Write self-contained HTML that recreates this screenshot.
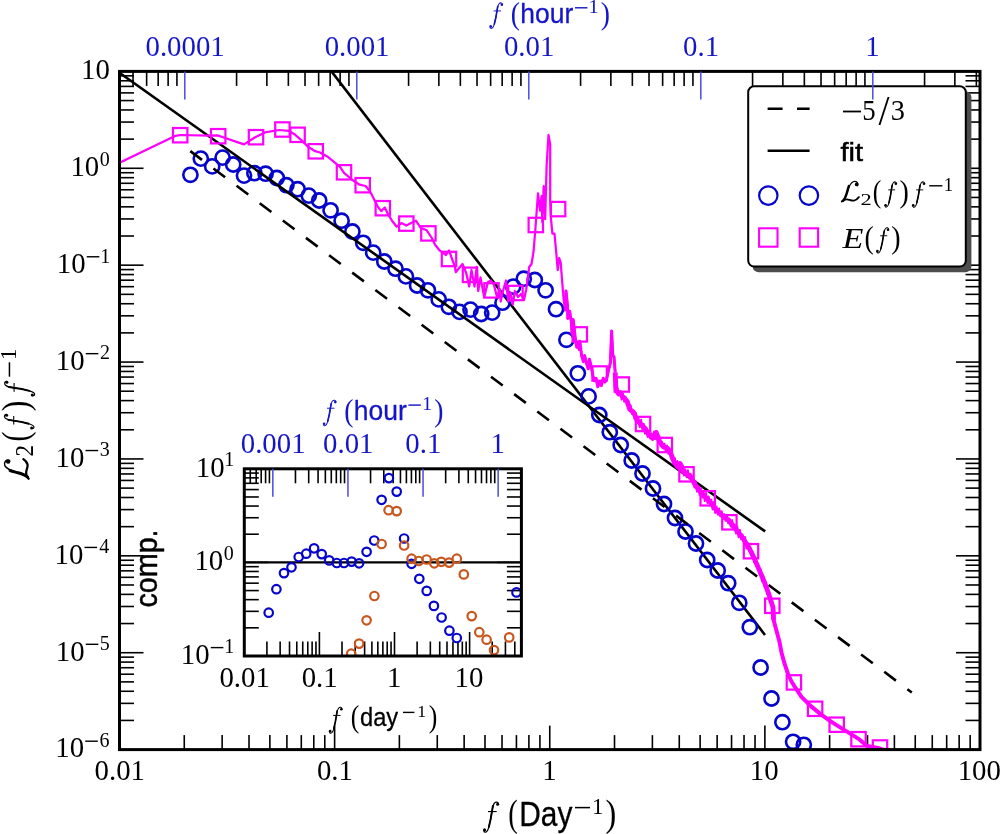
<!DOCTYPE html>
<html><head><meta charset="utf-8"><style>
html,body{margin:0;padding:0;background:#fff;}
svg{display:block;will-change:transform;}
</style></head><body>
<svg width="1000" height="834" viewBox="0 0 1000 834">
<rect width="1000" height="834" fill="#fff"/>
<defs><clipPath id="cm"><rect x="119.5" y="71.4" width="860.5" height="678.2"/></clipPath><clipPath id="ci"><rect x="244.3" y="468.8" width="277.09999999999997" height="187.2"/></clipPath></defs>
<line x1="184.26" y1="749.60" x2="184.26" y2="735.10" stroke="#000" stroke-width="1.6" />
<line x1="222.14" y1="749.60" x2="222.14" y2="735.10" stroke="#000" stroke-width="1.6" />
<line x1="249.02" y1="749.60" x2="249.02" y2="735.10" stroke="#000" stroke-width="1.6" />
<line x1="269.87" y1="749.60" x2="269.87" y2="735.10" stroke="#000" stroke-width="1.6" />
<line x1="286.90" y1="749.60" x2="286.90" y2="735.10" stroke="#000" stroke-width="1.6" />
<line x1="301.30" y1="749.60" x2="301.30" y2="735.10" stroke="#000" stroke-width="1.6" />
<line x1="313.78" y1="749.60" x2="313.78" y2="735.10" stroke="#000" stroke-width="1.6" />
<line x1="324.78" y1="749.60" x2="324.78" y2="735.10" stroke="#000" stroke-width="1.6" />
<line x1="334.62" y1="749.60" x2="334.62" y2="725.60" stroke="#000" stroke-width="1.6" />
<line x1="399.38" y1="749.60" x2="399.38" y2="735.10" stroke="#000" stroke-width="1.6" />
<line x1="437.27" y1="749.60" x2="437.27" y2="735.10" stroke="#000" stroke-width="1.6" />
<line x1="464.14" y1="749.60" x2="464.14" y2="735.10" stroke="#000" stroke-width="1.6" />
<line x1="484.99" y1="749.60" x2="484.99" y2="735.10" stroke="#000" stroke-width="1.6" />
<line x1="502.02" y1="749.60" x2="502.02" y2="735.10" stroke="#000" stroke-width="1.6" />
<line x1="516.43" y1="749.60" x2="516.43" y2="735.10" stroke="#000" stroke-width="1.6" />
<line x1="528.90" y1="749.60" x2="528.90" y2="735.10" stroke="#000" stroke-width="1.6" />
<line x1="539.91" y1="749.60" x2="539.91" y2="735.10" stroke="#000" stroke-width="1.6" />
<line x1="549.75" y1="749.60" x2="549.75" y2="725.60" stroke="#000" stroke-width="1.6" />
<line x1="614.51" y1="749.60" x2="614.51" y2="735.10" stroke="#000" stroke-width="1.6" />
<line x1="652.39" y1="749.60" x2="652.39" y2="735.10" stroke="#000" stroke-width="1.6" />
<line x1="679.27" y1="749.60" x2="679.27" y2="735.10" stroke="#000" stroke-width="1.6" />
<line x1="700.12" y1="749.60" x2="700.12" y2="735.10" stroke="#000" stroke-width="1.6" />
<line x1="717.15" y1="749.60" x2="717.15" y2="735.10" stroke="#000" stroke-width="1.6" />
<line x1="731.55" y1="749.60" x2="731.55" y2="735.10" stroke="#000" stroke-width="1.6" />
<line x1="744.03" y1="749.60" x2="744.03" y2="735.10" stroke="#000" stroke-width="1.6" />
<line x1="755.03" y1="749.60" x2="755.03" y2="735.10" stroke="#000" stroke-width="1.6" />
<line x1="764.88" y1="749.60" x2="764.88" y2="725.60" stroke="#000" stroke-width="1.6" />
<line x1="829.63" y1="749.60" x2="829.63" y2="735.10" stroke="#000" stroke-width="1.6" />
<line x1="867.52" y1="749.60" x2="867.52" y2="735.10" stroke="#000" stroke-width="1.6" />
<line x1="894.39" y1="749.60" x2="894.39" y2="735.10" stroke="#000" stroke-width="1.6" />
<line x1="915.24" y1="749.60" x2="915.24" y2="735.10" stroke="#000" stroke-width="1.6" />
<line x1="932.27" y1="749.60" x2="932.27" y2="735.10" stroke="#000" stroke-width="1.6" />
<line x1="946.68" y1="749.60" x2="946.68" y2="735.10" stroke="#000" stroke-width="1.6" />
<line x1="959.15" y1="749.60" x2="959.15" y2="735.10" stroke="#000" stroke-width="1.6" />
<line x1="970.16" y1="749.60" x2="970.16" y2="735.10" stroke="#000" stroke-width="1.6" />
<line x1="133.02" y1="71.40" x2="133.02" y2="85.90" stroke="#000" stroke-width="1.6" />
<line x1="146.64" y1="71.40" x2="146.64" y2="85.90" stroke="#000" stroke-width="1.6" />
<line x1="158.16" y1="71.40" x2="158.16" y2="85.90" stroke="#000" stroke-width="1.6" />
<line x1="168.13" y1="71.40" x2="168.13" y2="85.90" stroke="#000" stroke-width="1.6" />
<line x1="176.93" y1="71.40" x2="176.93" y2="85.90" stroke="#000" stroke-width="1.6" />
<line x1="236.58" y1="71.40" x2="236.58" y2="85.90" stroke="#000" stroke-width="1.6" />
<line x1="266.86" y1="71.40" x2="266.86" y2="85.90" stroke="#000" stroke-width="1.6" />
<line x1="288.35" y1="71.40" x2="288.35" y2="85.90" stroke="#000" stroke-width="1.6" />
<line x1="305.02" y1="71.40" x2="305.02" y2="85.90" stroke="#000" stroke-width="1.6" />
<line x1="318.64" y1="71.40" x2="318.64" y2="85.90" stroke="#000" stroke-width="1.6" />
<line x1="330.16" y1="71.40" x2="330.16" y2="85.90" stroke="#000" stroke-width="1.6" />
<line x1="340.13" y1="71.40" x2="340.13" y2="85.90" stroke="#000" stroke-width="1.6" />
<line x1="348.93" y1="71.40" x2="348.93" y2="85.90" stroke="#000" stroke-width="1.6" />
<line x1="408.58" y1="71.40" x2="408.58" y2="85.90" stroke="#000" stroke-width="1.6" />
<line x1="438.86" y1="71.40" x2="438.86" y2="85.90" stroke="#000" stroke-width="1.6" />
<line x1="460.35" y1="71.40" x2="460.35" y2="85.90" stroke="#000" stroke-width="1.6" />
<line x1="477.02" y1="71.40" x2="477.02" y2="85.90" stroke="#000" stroke-width="1.6" />
<line x1="490.64" y1="71.40" x2="490.64" y2="85.90" stroke="#000" stroke-width="1.6" />
<line x1="502.16" y1="71.40" x2="502.16" y2="85.90" stroke="#000" stroke-width="1.6" />
<line x1="512.13" y1="71.40" x2="512.13" y2="85.90" stroke="#000" stroke-width="1.6" />
<line x1="520.93" y1="71.40" x2="520.93" y2="85.90" stroke="#000" stroke-width="1.6" />
<line x1="580.58" y1="71.40" x2="580.58" y2="85.90" stroke="#000" stroke-width="1.6" />
<line x1="610.86" y1="71.40" x2="610.86" y2="85.90" stroke="#000" stroke-width="1.6" />
<line x1="632.35" y1="71.40" x2="632.35" y2="85.90" stroke="#000" stroke-width="1.6" />
<line x1="649.02" y1="71.40" x2="649.02" y2="85.90" stroke="#000" stroke-width="1.6" />
<line x1="662.64" y1="71.40" x2="662.64" y2="85.90" stroke="#000" stroke-width="1.6" />
<line x1="674.16" y1="71.40" x2="674.16" y2="85.90" stroke="#000" stroke-width="1.6" />
<line x1="684.13" y1="71.40" x2="684.13" y2="85.90" stroke="#000" stroke-width="1.6" />
<line x1="692.93" y1="71.40" x2="692.93" y2="85.90" stroke="#000" stroke-width="1.6" />
<line x1="752.58" y1="71.40" x2="752.58" y2="85.90" stroke="#000" stroke-width="1.6" />
<line x1="782.86" y1="71.40" x2="782.86" y2="85.90" stroke="#000" stroke-width="1.6" />
<line x1="804.35" y1="71.40" x2="804.35" y2="85.90" stroke="#000" stroke-width="1.6" />
<line x1="821.02" y1="71.40" x2="821.02" y2="85.90" stroke="#000" stroke-width="1.6" />
<line x1="834.64" y1="71.40" x2="834.64" y2="85.90" stroke="#000" stroke-width="1.6" />
<line x1="846.16" y1="71.40" x2="846.16" y2="85.90" stroke="#000" stroke-width="1.6" />
<line x1="856.13" y1="71.40" x2="856.13" y2="85.90" stroke="#000" stroke-width="1.6" />
<line x1="864.93" y1="71.40" x2="864.93" y2="85.90" stroke="#000" stroke-width="1.6" />
<line x1="924.58" y1="71.40" x2="924.58" y2="85.90" stroke="#000" stroke-width="1.6" />
<line x1="954.86" y1="71.40" x2="954.86" y2="85.90" stroke="#000" stroke-width="1.6" />
<line x1="976.35" y1="71.40" x2="976.35" y2="85.90" stroke="#000" stroke-width="1.6" />
<line x1="119.50" y1="720.43" x2="134.00" y2="720.43" stroke="#000" stroke-width="1.6" />
<line x1="980.00" y1="720.43" x2="965.50" y2="720.43" stroke="#000" stroke-width="1.6" />
<line x1="119.50" y1="703.37" x2="134.00" y2="703.37" stroke="#000" stroke-width="1.6" />
<line x1="980.00" y1="703.37" x2="965.50" y2="703.37" stroke="#000" stroke-width="1.6" />
<line x1="119.50" y1="691.27" x2="134.00" y2="691.27" stroke="#000" stroke-width="1.6" />
<line x1="980.00" y1="691.27" x2="965.50" y2="691.27" stroke="#000" stroke-width="1.6" />
<line x1="119.50" y1="681.88" x2="134.00" y2="681.88" stroke="#000" stroke-width="1.6" />
<line x1="980.00" y1="681.88" x2="965.50" y2="681.88" stroke="#000" stroke-width="1.6" />
<line x1="119.50" y1="674.21" x2="134.00" y2="674.21" stroke="#000" stroke-width="1.6" />
<line x1="980.00" y1="674.21" x2="965.50" y2="674.21" stroke="#000" stroke-width="1.6" />
<line x1="119.50" y1="667.72" x2="134.00" y2="667.72" stroke="#000" stroke-width="1.6" />
<line x1="980.00" y1="667.72" x2="965.50" y2="667.72" stroke="#000" stroke-width="1.6" />
<line x1="119.50" y1="662.10" x2="134.00" y2="662.10" stroke="#000" stroke-width="1.6" />
<line x1="980.00" y1="662.10" x2="965.50" y2="662.10" stroke="#000" stroke-width="1.6" />
<line x1="119.50" y1="657.15" x2="134.00" y2="657.15" stroke="#000" stroke-width="1.6" />
<line x1="980.00" y1="657.15" x2="965.50" y2="657.15" stroke="#000" stroke-width="1.6" />
<line x1="119.50" y1="652.71" x2="143.50" y2="652.71" stroke="#000" stroke-width="1.6" />
<line x1="980.00" y1="652.71" x2="956.00" y2="652.71" stroke="#000" stroke-width="1.6" />
<line x1="119.50" y1="623.55" x2="134.00" y2="623.55" stroke="#000" stroke-width="1.6" />
<line x1="980.00" y1="623.55" x2="965.50" y2="623.55" stroke="#000" stroke-width="1.6" />
<line x1="119.50" y1="606.49" x2="134.00" y2="606.49" stroke="#000" stroke-width="1.6" />
<line x1="980.00" y1="606.49" x2="965.50" y2="606.49" stroke="#000" stroke-width="1.6" />
<line x1="119.50" y1="594.38" x2="134.00" y2="594.38" stroke="#000" stroke-width="1.6" />
<line x1="980.00" y1="594.38" x2="965.50" y2="594.38" stroke="#000" stroke-width="1.6" />
<line x1="119.50" y1="584.99" x2="134.00" y2="584.99" stroke="#000" stroke-width="1.6" />
<line x1="980.00" y1="584.99" x2="965.50" y2="584.99" stroke="#000" stroke-width="1.6" />
<line x1="119.50" y1="577.32" x2="134.00" y2="577.32" stroke="#000" stroke-width="1.6" />
<line x1="980.00" y1="577.32" x2="965.50" y2="577.32" stroke="#000" stroke-width="1.6" />
<line x1="119.50" y1="570.84" x2="134.00" y2="570.84" stroke="#000" stroke-width="1.6" />
<line x1="980.00" y1="570.84" x2="965.50" y2="570.84" stroke="#000" stroke-width="1.6" />
<line x1="119.50" y1="565.22" x2="134.00" y2="565.22" stroke="#000" stroke-width="1.6" />
<line x1="980.00" y1="565.22" x2="965.50" y2="565.22" stroke="#000" stroke-width="1.6" />
<line x1="119.50" y1="560.26" x2="134.00" y2="560.26" stroke="#000" stroke-width="1.6" />
<line x1="980.00" y1="560.26" x2="965.50" y2="560.26" stroke="#000" stroke-width="1.6" />
<line x1="119.50" y1="555.83" x2="143.50" y2="555.83" stroke="#000" stroke-width="1.6" />
<line x1="980.00" y1="555.83" x2="956.00" y2="555.83" stroke="#000" stroke-width="1.6" />
<line x1="119.50" y1="526.66" x2="134.00" y2="526.66" stroke="#000" stroke-width="1.6" />
<line x1="980.00" y1="526.66" x2="965.50" y2="526.66" stroke="#000" stroke-width="1.6" />
<line x1="119.50" y1="509.60" x2="134.00" y2="509.60" stroke="#000" stroke-width="1.6" />
<line x1="980.00" y1="509.60" x2="965.50" y2="509.60" stroke="#000" stroke-width="1.6" />
<line x1="119.50" y1="497.50" x2="134.00" y2="497.50" stroke="#000" stroke-width="1.6" />
<line x1="980.00" y1="497.50" x2="965.50" y2="497.50" stroke="#000" stroke-width="1.6" />
<line x1="119.50" y1="488.11" x2="134.00" y2="488.11" stroke="#000" stroke-width="1.6" />
<line x1="980.00" y1="488.11" x2="965.50" y2="488.11" stroke="#000" stroke-width="1.6" />
<line x1="119.50" y1="480.44" x2="134.00" y2="480.44" stroke="#000" stroke-width="1.6" />
<line x1="980.00" y1="480.44" x2="965.50" y2="480.44" stroke="#000" stroke-width="1.6" />
<line x1="119.50" y1="473.95" x2="134.00" y2="473.95" stroke="#000" stroke-width="1.6" />
<line x1="980.00" y1="473.95" x2="965.50" y2="473.95" stroke="#000" stroke-width="1.6" />
<line x1="119.50" y1="468.33" x2="134.00" y2="468.33" stroke="#000" stroke-width="1.6" />
<line x1="980.00" y1="468.33" x2="965.50" y2="468.33" stroke="#000" stroke-width="1.6" />
<line x1="119.50" y1="463.38" x2="134.00" y2="463.38" stroke="#000" stroke-width="1.6" />
<line x1="980.00" y1="463.38" x2="965.50" y2="463.38" stroke="#000" stroke-width="1.6" />
<line x1="119.50" y1="458.94" x2="143.50" y2="458.94" stroke="#000" stroke-width="1.6" />
<line x1="980.00" y1="458.94" x2="956.00" y2="458.94" stroke="#000" stroke-width="1.6" />
<line x1="119.50" y1="429.78" x2="134.00" y2="429.78" stroke="#000" stroke-width="1.6" />
<line x1="980.00" y1="429.78" x2="965.50" y2="429.78" stroke="#000" stroke-width="1.6" />
<line x1="119.50" y1="412.72" x2="134.00" y2="412.72" stroke="#000" stroke-width="1.6" />
<line x1="980.00" y1="412.72" x2="965.50" y2="412.72" stroke="#000" stroke-width="1.6" />
<line x1="119.50" y1="400.61" x2="134.00" y2="400.61" stroke="#000" stroke-width="1.6" />
<line x1="980.00" y1="400.61" x2="965.50" y2="400.61" stroke="#000" stroke-width="1.6" />
<line x1="119.50" y1="391.22" x2="134.00" y2="391.22" stroke="#000" stroke-width="1.6" />
<line x1="980.00" y1="391.22" x2="965.50" y2="391.22" stroke="#000" stroke-width="1.6" />
<line x1="119.50" y1="383.55" x2="134.00" y2="383.55" stroke="#000" stroke-width="1.6" />
<line x1="980.00" y1="383.55" x2="965.50" y2="383.55" stroke="#000" stroke-width="1.6" />
<line x1="119.50" y1="377.06" x2="134.00" y2="377.06" stroke="#000" stroke-width="1.6" />
<line x1="980.00" y1="377.06" x2="965.50" y2="377.06" stroke="#000" stroke-width="1.6" />
<line x1="119.50" y1="371.45" x2="134.00" y2="371.45" stroke="#000" stroke-width="1.6" />
<line x1="980.00" y1="371.45" x2="965.50" y2="371.45" stroke="#000" stroke-width="1.6" />
<line x1="119.50" y1="366.49" x2="134.00" y2="366.49" stroke="#000" stroke-width="1.6" />
<line x1="980.00" y1="366.49" x2="965.50" y2="366.49" stroke="#000" stroke-width="1.6" />
<line x1="119.50" y1="362.06" x2="143.50" y2="362.06" stroke="#000" stroke-width="1.6" />
<line x1="980.00" y1="362.06" x2="956.00" y2="362.06" stroke="#000" stroke-width="1.6" />
<line x1="119.50" y1="332.89" x2="134.00" y2="332.89" stroke="#000" stroke-width="1.6" />
<line x1="980.00" y1="332.89" x2="965.50" y2="332.89" stroke="#000" stroke-width="1.6" />
<line x1="119.50" y1="315.83" x2="134.00" y2="315.83" stroke="#000" stroke-width="1.6" />
<line x1="980.00" y1="315.83" x2="965.50" y2="315.83" stroke="#000" stroke-width="1.6" />
<line x1="119.50" y1="303.73" x2="134.00" y2="303.73" stroke="#000" stroke-width="1.6" />
<line x1="980.00" y1="303.73" x2="965.50" y2="303.73" stroke="#000" stroke-width="1.6" />
<line x1="119.50" y1="294.34" x2="134.00" y2="294.34" stroke="#000" stroke-width="1.6" />
<line x1="980.00" y1="294.34" x2="965.50" y2="294.34" stroke="#000" stroke-width="1.6" />
<line x1="119.50" y1="286.67" x2="134.00" y2="286.67" stroke="#000" stroke-width="1.6" />
<line x1="980.00" y1="286.67" x2="965.50" y2="286.67" stroke="#000" stroke-width="1.6" />
<line x1="119.50" y1="280.18" x2="134.00" y2="280.18" stroke="#000" stroke-width="1.6" />
<line x1="980.00" y1="280.18" x2="965.50" y2="280.18" stroke="#000" stroke-width="1.6" />
<line x1="119.50" y1="274.56" x2="134.00" y2="274.56" stroke="#000" stroke-width="1.6" />
<line x1="980.00" y1="274.56" x2="965.50" y2="274.56" stroke="#000" stroke-width="1.6" />
<line x1="119.50" y1="269.60" x2="134.00" y2="269.60" stroke="#000" stroke-width="1.6" />
<line x1="980.00" y1="269.60" x2="965.50" y2="269.60" stroke="#000" stroke-width="1.6" />
<line x1="119.50" y1="265.17" x2="143.50" y2="265.17" stroke="#000" stroke-width="1.6" />
<line x1="980.00" y1="265.17" x2="956.00" y2="265.17" stroke="#000" stroke-width="1.6" />
<line x1="119.50" y1="236.01" x2="134.00" y2="236.01" stroke="#000" stroke-width="1.6" />
<line x1="980.00" y1="236.01" x2="965.50" y2="236.01" stroke="#000" stroke-width="1.6" />
<line x1="119.50" y1="218.95" x2="134.00" y2="218.95" stroke="#000" stroke-width="1.6" />
<line x1="980.00" y1="218.95" x2="965.50" y2="218.95" stroke="#000" stroke-width="1.6" />
<line x1="119.50" y1="206.84" x2="134.00" y2="206.84" stroke="#000" stroke-width="1.6" />
<line x1="980.00" y1="206.84" x2="965.50" y2="206.84" stroke="#000" stroke-width="1.6" />
<line x1="119.50" y1="197.45" x2="134.00" y2="197.45" stroke="#000" stroke-width="1.6" />
<line x1="980.00" y1="197.45" x2="965.50" y2="197.45" stroke="#000" stroke-width="1.6" />
<line x1="119.50" y1="189.78" x2="134.00" y2="189.78" stroke="#000" stroke-width="1.6" />
<line x1="980.00" y1="189.78" x2="965.50" y2="189.78" stroke="#000" stroke-width="1.6" />
<line x1="119.50" y1="183.29" x2="134.00" y2="183.29" stroke="#000" stroke-width="1.6" />
<line x1="980.00" y1="183.29" x2="965.50" y2="183.29" stroke="#000" stroke-width="1.6" />
<line x1="119.50" y1="177.67" x2="134.00" y2="177.67" stroke="#000" stroke-width="1.6" />
<line x1="980.00" y1="177.67" x2="965.50" y2="177.67" stroke="#000" stroke-width="1.6" />
<line x1="119.50" y1="172.72" x2="134.00" y2="172.72" stroke="#000" stroke-width="1.6" />
<line x1="980.00" y1="172.72" x2="965.50" y2="172.72" stroke="#000" stroke-width="1.6" />
<line x1="119.50" y1="168.29" x2="143.50" y2="168.29" stroke="#000" stroke-width="1.6" />
<line x1="980.00" y1="168.29" x2="956.00" y2="168.29" stroke="#000" stroke-width="1.6" />
<line x1="119.50" y1="139.12" x2="134.00" y2="139.12" stroke="#000" stroke-width="1.6" />
<line x1="980.00" y1="139.12" x2="965.50" y2="139.12" stroke="#000" stroke-width="1.6" />
<line x1="119.50" y1="122.06" x2="134.00" y2="122.06" stroke="#000" stroke-width="1.6" />
<line x1="980.00" y1="122.06" x2="965.50" y2="122.06" stroke="#000" stroke-width="1.6" />
<line x1="119.50" y1="109.95" x2="134.00" y2="109.95" stroke="#000" stroke-width="1.6" />
<line x1="980.00" y1="109.95" x2="965.50" y2="109.95" stroke="#000" stroke-width="1.6" />
<line x1="119.50" y1="100.57" x2="134.00" y2="100.57" stroke="#000" stroke-width="1.6" />
<line x1="980.00" y1="100.57" x2="965.50" y2="100.57" stroke="#000" stroke-width="1.6" />
<line x1="119.50" y1="92.89" x2="134.00" y2="92.89" stroke="#000" stroke-width="1.6" />
<line x1="980.00" y1="92.89" x2="965.50" y2="92.89" stroke="#000" stroke-width="1.6" />
<line x1="119.50" y1="86.41" x2="134.00" y2="86.41" stroke="#000" stroke-width="1.6" />
<line x1="980.00" y1="86.41" x2="965.50" y2="86.41" stroke="#000" stroke-width="1.6" />
<line x1="119.50" y1="80.79" x2="134.00" y2="80.79" stroke="#000" stroke-width="1.6" />
<line x1="980.00" y1="80.79" x2="965.50" y2="80.79" stroke="#000" stroke-width="1.6" />
<line x1="119.50" y1="75.83" x2="134.00" y2="75.83" stroke="#000" stroke-width="1.6" />
<line x1="980.00" y1="75.83" x2="965.50" y2="75.83" stroke="#000" stroke-width="1.6" />
<g clip-path="url(#cm)">
<line x1="331.5" y1="71.4" x2="765" y2="635" stroke="#000" stroke-width="2.6"/>
<circle cx="190.4" cy="174.8" r="7.1" fill="none" stroke="#0505cc" stroke-width="2.6"/>
<circle cx="200.8" cy="158.6" r="7.1" fill="none" stroke="#0505cc" stroke-width="2.6"/>
<circle cx="212.2" cy="166.4" r="7.1" fill="none" stroke="#0505cc" stroke-width="2.6"/>
<circle cx="222.6" cy="157.6" r="7.1" fill="none" stroke="#0505cc" stroke-width="2.6"/>
<circle cx="233.2" cy="164.5" r="7.1" fill="none" stroke="#0505cc" stroke-width="2.6"/>
<circle cx="244" cy="175.6" r="7.1" fill="none" stroke="#0505cc" stroke-width="2.6"/>
<circle cx="254.4" cy="173.2" r="7.1" fill="none" stroke="#0505cc" stroke-width="2.6"/>
<circle cx="265.6" cy="173.7" r="7.1" fill="none" stroke="#0505cc" stroke-width="2.6"/>
<circle cx="276.8" cy="178" r="7.1" fill="none" stroke="#0505cc" stroke-width="2.6"/>
<circle cx="286.4" cy="185.2" r="7.1" fill="none" stroke="#0505cc" stroke-width="2.6"/>
<circle cx="297.6" cy="189.2" r="7.1" fill="none" stroke="#0505cc" stroke-width="2.6"/>
<circle cx="308.8" cy="195.6" r="7.1" fill="none" stroke="#0505cc" stroke-width="2.6"/>
<circle cx="319.2" cy="200.5" r="7.1" fill="none" stroke="#0505cc" stroke-width="2.6"/>
<circle cx="330.6" cy="210.3" r="7.1" fill="none" stroke="#0505cc" stroke-width="2.6"/>
<circle cx="341.6" cy="220.7" r="7.1" fill="none" stroke="#0505cc" stroke-width="2.6"/>
<circle cx="352.4" cy="231.5" r="7.1" fill="none" stroke="#0505cc" stroke-width="2.6"/>
<circle cx="363.2" cy="242.8" r="7.1" fill="none" stroke="#0505cc" stroke-width="2.6"/>
<circle cx="373.2" cy="252.6" r="7.1" fill="none" stroke="#0505cc" stroke-width="2.6"/>
<circle cx="384.3" cy="261.5" r="7.1" fill="none" stroke="#0505cc" stroke-width="2.6"/>
<circle cx="395.5" cy="268.7" r="7.1" fill="none" stroke="#0505cc" stroke-width="2.6"/>
<circle cx="405.9" cy="276.4" r="7.1" fill="none" stroke="#0505cc" stroke-width="2.6"/>
<circle cx="417.1" cy="285.5" r="7.1" fill="none" stroke="#0505cc" stroke-width="2.6"/>
<circle cx="427.9" cy="290.3" r="7.1" fill="none" stroke="#0505cc" stroke-width="2.6"/>
<circle cx="438.7" cy="299.4" r="7.1" fill="none" stroke="#0505cc" stroke-width="2.6"/>
<circle cx="448.8" cy="306.8" r="7.1" fill="none" stroke="#0505cc" stroke-width="2.6"/>
<circle cx="459.5" cy="311.9" r="7.1" fill="none" stroke="#0505cc" stroke-width="2.6"/>
<circle cx="470.5" cy="309.6" r="7.1" fill="none" stroke="#0505cc" stroke-width="2.6"/>
<circle cx="481.2" cy="314" r="7.1" fill="none" stroke="#0505cc" stroke-width="2.6"/>
<circle cx="492.2" cy="312.6" r="7.1" fill="none" stroke="#0505cc" stroke-width="2.6"/>
<circle cx="502.5" cy="302.7" r="7.1" fill="none" stroke="#0505cc" stroke-width="2.6"/>
<circle cx="513.2" cy="286.6" r="7.1" fill="none" stroke="#0505cc" stroke-width="2.6"/>
<circle cx="523.8" cy="278.7" r="7.1" fill="none" stroke="#0505cc" stroke-width="2.6"/>
<circle cx="534.8" cy="280" r="7.1" fill="none" stroke="#0505cc" stroke-width="2.6"/>
<circle cx="545.6" cy="290.3" r="7.1" fill="none" stroke="#0505cc" stroke-width="2.6"/>
<circle cx="556" cy="309.2" r="7.1" fill="none" stroke="#0505cc" stroke-width="2.6"/>
<circle cx="566.4" cy="339.8" r="7.1" fill="none" stroke="#0505cc" stroke-width="2.6"/>
<circle cx="577.8" cy="373.3" r="7.1" fill="none" stroke="#0505cc" stroke-width="2.6"/>
<circle cx="588.6" cy="396.4" r="7.1" fill="none" stroke="#0505cc" stroke-width="2.6"/>
<circle cx="599.3" cy="415" r="7.1" fill="none" stroke="#0505cc" stroke-width="2.6"/>
<circle cx="609.8" cy="432.2" r="7.1" fill="none" stroke="#0505cc" stroke-width="2.6"/>
<circle cx="620.7" cy="445" r="7.1" fill="none" stroke="#0505cc" stroke-width="2.6"/>
<circle cx="631.7" cy="460.5" r="7.1" fill="none" stroke="#0505cc" stroke-width="2.6"/>
<circle cx="642.5" cy="473.5" r="7.1" fill="none" stroke="#0505cc" stroke-width="2.6"/>
<circle cx="653" cy="488.5" r="7.1" fill="none" stroke="#0505cc" stroke-width="2.6"/>
<circle cx="664" cy="504" r="7.1" fill="none" stroke="#0505cc" stroke-width="2.6"/>
<circle cx="675" cy="518" r="7.1" fill="none" stroke="#0505cc" stroke-width="2.6"/>
<circle cx="685.5" cy="531.5" r="7.1" fill="none" stroke="#0505cc" stroke-width="2.6"/>
<circle cx="696" cy="543.5" r="7.1" fill="none" stroke="#0505cc" stroke-width="2.6"/>
<circle cx="707.2" cy="560" r="7.1" fill="none" stroke="#0505cc" stroke-width="2.6"/>
<circle cx="717.7" cy="570.5" r="7.1" fill="none" stroke="#0505cc" stroke-width="2.6"/>
<circle cx="728.2" cy="583.2" r="7.1" fill="none" stroke="#0505cc" stroke-width="2.6"/>
<circle cx="739.3" cy="602.8" r="7.1" fill="none" stroke="#0505cc" stroke-width="2.6"/>
<circle cx="749.8" cy="627.2" r="7.1" fill="none" stroke="#0505cc" stroke-width="2.6"/>
<circle cx="760.6" cy="667.5" r="7.1" fill="none" stroke="#0505cc" stroke-width="2.6"/>
<circle cx="771.5" cy="698.5" r="7.1" fill="none" stroke="#0505cc" stroke-width="2.6"/>
<circle cx="782.4" cy="722.2" r="7.1" fill="none" stroke="#0505cc" stroke-width="2.6"/>
<circle cx="793.1" cy="741.8" r="7.1" fill="none" stroke="#0505cc" stroke-width="2.6"/>
<circle cx="803.8" cy="744.8" r="7.1" fill="none" stroke="#0505cc" stroke-width="2.6"/>
<line x1="119.5" y1="72.8" x2="765.2" y2="531.4" stroke="#000" stroke-width="2.6"/>
<line x1="190.3" y1="151.1" x2="911.8" y2="692.5" stroke="#000" stroke-width="2.6" stroke-dasharray="14.6 14.32"/>
<polyline points="118,163.5 175.6,135.8 180.4,135 208.8,135.6 217.6,135.4 226,138.2 238,142.4 244,144.4 255.2,137.2 264.8,132.4 279.2,130 288.8,130.8 295.2,134.8 301.6,140.4 308,146.8 314.4,150.8 320,152.5 327.2,156.4 335.2,162.8 340,166.8 344,172.8 352.4,180 359.6,184.7 365.6,186 370.4,192 377.6,206.3 381.2,211.1 384.8,207.5 388.3,214.7 392,220.7 396.7,226.7 401.5,223.1 406.3,225.5 411.1,223.1 415.9,220.7 420.7,227.9 426.7,230.3 431.5,237.5 435.1,244.7 439.9,250.7 446,255 449,250.5 455,267 455.7,272.2 462.5,264 466.2,273 469.2,286.5 471.5,270 474.5,286.5 476.7,267 478.2,291 480.5,277.5 484.2,297 488,282 491,280.5 494,285 497,297 500,289.5 500.7,301.5 503,291 506,280.5 508.2,301.5 510.5,292.5 512.7,304.5 515,291 518,297 521,294 524,300 526.2,289.5 527.7,279 529.2,267 531.5,264 533,255 533.7,250 535.8,223.5 538,193.3 540.1,210.6 541.6,196.2 542.3,222 543.7,186.1 545.2,219.2 546.6,166 548.5,135 550.2,144.4 550.2,202 550.9,217.8 552.4,233.6 554.5,233.6 556.2,252 557.7,270 559.2,258 560.7,262.5 562.2,282 563.7,300 565.2,310.5 566,291 567.5,306 567.8,318.4 569.6,311.2 571.4,322 572,334 573.2,319.6 574.4,330.4 575.6,341.2 576.8,347.2 578,342.4 579.2,349.6 579.8,341.2 581.6,355.6 583.4,361.6 584.6,355.6 586.4,362.8 588.2,368.8 589.4,359.2 591.2,366.4 593,376 594.2,380.7 596,378.3 597.8,386.7 599.6,382 601.4,385.5 603.2,378.3 605,382 606.8,378.3 608.6,370 610.4,362.8 611.6,331 612.8,355.6 614,356.8 615.2,372.4" fill="none" stroke="#f0f" stroke-width="2.25" stroke-linejoin="round"/>
<polyline points="565.2,310.5 566,291 567.5,306 567.8,318.4 569.6,311.2 571.4,322 572,334 573.2,319.6 574.4,330.4 575.6,341.2 576.8,347.2 578,342.4 579.2,349.6 579.8,341.2 581.6,355.6 583.4,361.6 584.6,355.6 586.4,362.8 588.2,368.8 589.4,359.2 591.2,366.4 593,376 594.2,380.7 596,378.3 597.8,386.7 599.6,382 601.4,385.5 603.2,378.3 605,382 606.8,378.3 608.6,370 610.4,362.8 611.6,331 612.8,355.6 614,356.8 615.2,372.4" fill="none" stroke="#f0f" stroke-width="3.0" stroke-linejoin="round"/>
<polyline points="615.2,372.4 615.8,386.7 617,391.5 618.8,394 620.6,392.7 622.4,396.3 624.7,398.7 627.1,401.1 629.8,409.6 633.4,412 637,420.4 640.6,424 645.4,428.8 649,434.8 652.6,438.4 656.2,432.4 659.8,442 663.4,446.8 667,448 670.6,452.8 674.2,462.4 677.8,467.1 680.2,463.5 683.8,471.9 687.4,474.3 691,476.7 694.5,483.9 698.1,488.7 701.7,493.4 708.4,500.1 715.1,508.5 721.8,515.2 728.6,520.3 735.3,528.7 742,537 748.7,547.1 753.7,557.2 758.8,568.9 763.8,580.7 768.8,594.1 773,607.5 773.6,620" fill="none" stroke="#f0f" stroke-width="4.8" stroke-linejoin="round"/>
<polyline points="773,607.5 773.6,620 776.5,630.8 779.4,641.6 781.5,652.4 784.4,663.2 788,674 791.5,681.5 794.7,686.6 801.5,696.8 810,705.4 820.2,713.9 832.2,722.4 845.8,730.9 859.4,739.4 867,746 878,748 890,752" fill="none" stroke="#f0f" stroke-width="4.0" stroke-linejoin="round"/>
<polyline points="619.0,395.6 620.3,391.4 621.6,399.5 622.9,393.8 624.2,401.7 625.5,396.7 626.8,405.1 628.1,401.0 629.4,409.4 630.7,405.4 632.0,413.9 633.3,410.6 634.6,418.9 635.9,412.9 637.2,422.3 638.5,418.5 639.8,427.2 641.1,419.7 642.4,429.7 643.7,423.8 645.0,433.7 646.3,428.0 647.6,436.9 648.9,430.9 650.2,438.2 651.5,433.2 652.8,439.1 654.1,431.4 655.4,439.1 656.7,432.9 658.0,442.0 659.3,436.3 660.6,446.1 661.9,441.6 663.2,448.4 664.5,443.8 665.8,452.0 667.1,445.5 668.4,453.7 669.7,448.5 671.0,458.4 672.3,454.2 673.6,464.3 674.9,458.2 676.2,467.0 677.5,460.9 678.8,469.3 680.1,462.0 681.4,472.0 682.7,465.8 684.0,475.5 685.3,469.6 686.6,477.2 687.9,470.3 689.2,478.7 690.5,473.7 691.8,481.7 693.1,476.9 694.4,487.4 695.7,481.3 697.0,491.7 698.3,485.7 699.6,494.8 700.9,488.3 702.2,497.6 703.5,491.5 704.8,501.0 706.1,493.1 707.4,502.9 708.7,496.6 710.0,504.8 711.3,499.6 712.6,509.4 713.9,502.0 715.2,512.9 716.5,506.6 717.8,514.6 719.1,508.4 720.4,516.3 721.7,511.3 723.0,518.9 724.3,514.3 725.6,520.7 726.9,514.8 728.2,523.2 729.5,518.6 730.8,526.6 732.1,520.1 733.4,529.0 734.7,524.4 736.0,533.4 737.3,526.6 738.6,537.3 739.9,529.9 741.2,539.3 742.5,534.4 743.8,543.1 745.1,537.1 746.4,548.5 747.7,543.0 749.0,551.0 750.3,547.4 751.6,556.1 752.9,552.1 754.2,562.5 755.5,558.3 756.8,566.8 758.1,563.8 759.4,573.7 760.7,569.5 762.0,581.3 763.3,575.6 764.6,586.8 765.9,582.4 767.2,594.1 768.5,591.1 769.8,602.2 771.1,598.9" fill="none" stroke="#f0f" stroke-width="2.0" stroke-linejoin="round"/>
<rect x="173.00" y="128.00" width="14.4" height="14.4" fill="none" stroke="#f0f" stroke-width="2.2"/>
<rect x="211.00" y="129.00" width="14.4" height="14.4" fill="none" stroke="#f0f" stroke-width="2.2"/>
<rect x="248.80" y="130.00" width="14.4" height="14.4" fill="none" stroke="#f0f" stroke-width="2.2"/>
<rect x="275.20" y="122.30" width="14.4" height="14.4" fill="none" stroke="#f0f" stroke-width="2.2"/>
<rect x="290.40" y="127.60" width="14.4" height="14.4" fill="none" stroke="#f0f" stroke-width="2.2"/>
<rect x="308.50" y="144.10" width="14.4" height="14.4" fill="none" stroke="#f0f" stroke-width="2.2"/>
<rect x="336.80" y="165.10" width="14.4" height="14.4" fill="none" stroke="#f0f" stroke-width="2.2"/>
<rect x="355.50" y="178.00" width="14.4" height="14.4" fill="none" stroke="#f0f" stroke-width="2.2"/>
<rect x="375.60" y="201.00" width="14.4" height="14.4" fill="none" stroke="#f0f" stroke-width="2.2"/>
<rect x="399.10" y="216.40" width="14.4" height="14.4" fill="none" stroke="#f0f" stroke-width="2.2"/>
<rect x="421.20" y="226.20" width="14.4" height="14.4" fill="none" stroke="#f0f" stroke-width="2.2"/>
<rect x="441.80" y="251.80" width="14.4" height="14.4" fill="none" stroke="#f0f" stroke-width="2.2"/>
<rect x="462.80" y="267.60" width="14.4" height="14.4" fill="none" stroke="#f0f" stroke-width="2.2"/>
<rect x="484.30" y="283.20" width="14.4" height="14.4" fill="none" stroke="#f0f" stroke-width="2.2"/>
<rect x="508.30" y="285.80" width="14.4" height="14.4" fill="none" stroke="#f0f" stroke-width="2.2"/>
<rect x="528.60" y="217.80" width="14.4" height="14.4" fill="none" stroke="#f0f" stroke-width="2.2"/>
<rect x="550.90" y="201.90" width="14.4" height="14.4" fill="none" stroke="#f0f" stroke-width="2.2"/>
<rect x="572.60" y="327.20" width="14.4" height="14.4" fill="none" stroke="#f0f" stroke-width="2.2"/>
<rect x="592.40" y="366.30" width="14.4" height="14.4" fill="none" stroke="#f0f" stroke-width="2.2"/>
<rect x="614.60" y="377.30" width="14.4" height="14.4" fill="none" stroke="#f0f" stroke-width="2.2"/>
<rect x="635.80" y="416.80" width="14.4" height="14.4" fill="none" stroke="#f0f" stroke-width="2.2"/>
<rect x="657.60" y="437.80" width="14.4" height="14.4" fill="none" stroke="#f0f" stroke-width="2.2"/>
<rect x="679.30" y="467.10" width="14.4" height="14.4" fill="none" stroke="#f0f" stroke-width="2.2"/>
<rect x="700.50" y="491.10" width="14.4" height="14.4" fill="none" stroke="#f0f" stroke-width="2.2"/>
<rect x="722.20" y="515.10" width="14.4" height="14.4" fill="none" stroke="#f0f" stroke-width="2.2"/>
<rect x="743.80" y="544.00" width="14.4" height="14.4" fill="none" stroke="#f0f" stroke-width="2.2"/>
<rect x="765.10" y="598.60" width="14.4" height="14.4" fill="none" stroke="#f0f" stroke-width="2.2"/>
<rect x="786.70" y="675.20" width="14.4" height="14.4" fill="none" stroke="#f0f" stroke-width="2.2"/>
<rect x="807.90" y="701.60" width="14.4" height="14.4" fill="none" stroke="#f0f" stroke-width="2.2"/>
<rect x="829.50" y="717.50" width="14.4" height="14.4" fill="none" stroke="#f0f" stroke-width="2.2"/>
<rect x="851.30" y="732.00" width="14.4" height="14.4" fill="none" stroke="#f0f" stroke-width="2.2"/>
<rect x="872.80" y="740.30" width="14.4" height="14.4" fill="none" stroke="#f0f" stroke-width="2.2"/>
</g>
<rect x="119.5" y="71.4" width="860.5" height="678.2" fill="none" stroke="#000" stroke-width="3"/>
<text transform="translate(94.62,779.90) scale(1.0000,1)" font-family='"Liberation Serif", serif' font-style="normal" font-size="28.80" fill="#000" style="font-kerning:none" >0.01</text>
<text transform="translate(316.94,779.90) scale(1.0000,1)" font-family='"Liberation Serif", serif' font-style="normal" font-size="28.80" fill="#000" style="font-kerning:none" >0.1</text>
<text transform="translate(542.15,779.90) scale(1.0000,1)" font-family='"Liberation Serif", serif' font-style="normal" font-size="28.80" fill="#000" style="font-kerning:none" >1</text>
<text transform="translate(749.76,779.90) scale(1.0000,1)" font-family='"Liberation Serif", serif' font-style="normal" font-size="28.80" fill="#000" style="font-kerning:none" >10</text>
<text transform="translate(957.68,779.90) scale(1.0000,1)" font-family='"Liberation Serif", serif' font-style="normal" font-size="28.80" fill="#000" style="font-kerning:none" >100</text>
<text transform="translate(81.00,79.20) scale(1.0000,1)" font-family='"Liberation Serif", serif' font-style="normal" font-size="28.80" fill="#000" style="font-kerning:none" >10</text>
<text transform="translate(99.76,165.69) scale(1.0000,1)" font-family='"Liberation Serif", serif' font-style="normal" font-size="20.00" fill="#000" style="font-kerning:none" >0</text>
<text transform="translate(70.42,176.09) scale(1.0000,1)" font-family='"Liberation Serif", serif' font-style="normal" font-size="28.80" fill="#000" style="font-kerning:none" >10</text>
<text transform="translate(100.20,262.57) scale(1.0000,1)" font-family='"Liberation Serif", serif' font-style="normal" font-size="20.00" fill="#000" style="font-kerning:none" >1</text>
<rect x="86.76" y="256.07" width="12.60" height="1.4" fill="#000"/>
<text transform="translate(56.76,272.97) scale(1.0000,1)" font-family='"Liberation Serif", serif' font-style="normal" font-size="28.80" fill="#000" style="font-kerning:none" >10</text>
<text transform="translate(100.10,359.46) scale(1.0000,1)" font-family='"Liberation Serif", serif' font-style="normal" font-size="20.00" fill="#000" style="font-kerning:none" >2</text>
<rect x="85.78" y="352.96" width="12.60" height="1.4" fill="#000"/>
<text transform="translate(55.78,369.86) scale(1.0000,1)" font-family='"Liberation Serif", serif' font-style="normal" font-size="28.80" fill="#000" style="font-kerning:none" >10</text>
<text transform="translate(99.78,456.34) scale(1.0000,1)" font-family='"Liberation Serif", serif' font-style="normal" font-size="20.00" fill="#000" style="font-kerning:none" >3</text>
<rect x="85.54" y="449.84" width="12.60" height="1.4" fill="#000"/>
<text transform="translate(55.54,466.74) scale(1.0000,1)" font-family='"Liberation Serif", serif' font-style="normal" font-size="28.80" fill="#000" style="font-kerning:none" >10</text>
<text transform="translate(99.31,553.23) scale(1.0000,1)" font-family='"Liberation Serif", serif' font-style="normal" font-size="20.00" fill="#000" style="font-kerning:none" >4</text>
<rect x="84.50" y="546.73" width="12.60" height="1.4" fill="#000"/>
<text transform="translate(54.50,563.63) scale(1.0000,1)" font-family='"Liberation Serif", serif' font-style="normal" font-size="28.80" fill="#000" style="font-kerning:none" >10</text>
<text transform="translate(99.78,650.11) scale(1.0000,1)" font-family='"Liberation Serif", serif' font-style="normal" font-size="20.00" fill="#000" style="font-kerning:none" >5</text>
<rect x="85.74" y="643.61" width="12.60" height="1.4" fill="#000"/>
<text transform="translate(55.74,660.51) scale(1.0000,1)" font-family='"Liberation Serif", serif' font-style="normal" font-size="28.80" fill="#000" style="font-kerning:none" >10</text>
<text transform="translate(99.60,747.00) scale(1.0000,1)" font-family='"Liberation Serif", serif' font-style="normal" font-size="20.00" fill="#000" style="font-kerning:none" >6</text>
<rect x="85.26" y="740.50" width="12.60" height="1.4" fill="#000"/>
<text transform="translate(55.25,757.40) scale(1.0000,1)" font-family='"Liberation Serif", serif' font-style="normal" font-size="28.80" fill="#000" style="font-kerning:none" >10</text>
<text transform="translate(145.52,55.50) scale(1.0000,1)" font-family='"Liberation Serif", serif' font-style="normal" font-size="28.80" fill="#1414c8" style="font-kerning:none" >0.0001</text>
<text transform="translate(324.72,55.50) scale(1.0000,1)" font-family='"Liberation Serif", serif' font-style="normal" font-size="28.80" fill="#1414c8" style="font-kerning:none" >0.001</text>
<text transform="translate(503.92,55.50) scale(1.0000,1)" font-family='"Liberation Serif", serif' font-style="normal" font-size="28.80" fill="#1414c8" style="font-kerning:none" >0.01</text>
<text transform="translate(683.12,55.50) scale(1.0000,1)" font-family='"Liberation Serif", serif' font-style="normal" font-size="28.80" fill="#1414c8" style="font-kerning:none" >0.1</text>
<text transform="translate(865.20,55.50) scale(1.0000,1)" font-family='"Liberation Serif", serif' font-style="normal" font-size="28.80" fill="#1414c8" style="font-kerning:none" >1</text>
<path d="M498.42,804.01 C498.26,801.70 495.90,801.55 494.56,802.93 C493.22,804.16 492.54,807.86 492.04,810.94 C491.20,817.10 490.19,822.03 488.85,826.96 C487.84,830.96 486.16,832.50 484.82,832.19 C484.14,832.04 483.81,831.27 483.98,830.04" fill="none" stroke="#000" stroke-width="1.23" stroke-linecap="round"/><path d="M492.88,806.01 C492.54,807.86 492.46,808.78 492.04,810.94 C491.20,817.10 490.19,822.03 488.85,826.96" fill="none" stroke="#000" stroke-width="1.91" stroke-linecap="round"/><circle cx="497.67" cy="804.32" r="1.54" fill="#000"/><circle cx="484.56" cy="829.88" r="1.54" fill="#000"/><path d="M488.01,811.56 L496.74,811.56" stroke="#000" stroke-width="1.11"/>
<text transform="translate(508.25,825.61) scale(0.7670,1)" font-family='"Liberation Serif", serif' font-style="normal" font-size="37.06" fill="#000" style="font-kerning:none" >(</text>
<text transform="translate(605.56,825.59) scale(0.8695,1)" font-family='"Liberation Serif", serif' font-style="normal" font-size="37.17" fill="#000" style="font-kerning:none" >)</text>
<text transform="translate(519.25,825.80) scale(0.8650,1)" font-family='"Liberation Sans", sans-serif' font-style="normal" font-size="34.59" fill="#000" style="font-kerning:none" stroke="#000" stroke-width="0.3" stroke-linejoin="round">Day</text>
<rect x="575.00" y="806.85" width="15.00" height="1.5" fill="#000"/>
<text transform="translate(591.88,813.60) scale(0.9553,1)" font-family='"Liberation Serif", serif' font-style="normal" font-size="24.09" fill="#000" style="font-kerning:none" >1</text>
<path d="M502.50,4.55 C502.36,2.60 500.35,2.47 499.21,3.64 C498.07,4.68 497.49,7.80 497.06,10.40 C496.35,15.60 495.49,19.76 494.35,23.92 C493.49,27.30 492.06,28.60 490.92,28.34 C490.34,28.21 490.06,27.56 490.20,26.52" fill="none" stroke="#1414c8" stroke-width="1.04" stroke-linecap="round"/><path d="M497.78,6.24 C497.49,7.80 497.42,8.58 497.06,10.40 C496.35,15.60 495.49,19.76 494.35,23.92" fill="none" stroke="#1414c8" stroke-width="1.61" stroke-linecap="round"/><circle cx="501.86" cy="4.81" r="1.30" fill="#1414c8"/><circle cx="490.70" cy="26.39" r="1.30" fill="#1414c8"/><path d="M493.63,10.92 L501.07,10.92" stroke="#1414c8" stroke-width="0.94"/>
<text transform="translate(510.79,23.89) scale(0.8764,1)" font-family='"Liberation Serif", serif' font-style="normal" font-size="31.54" fill="#1414c8" style="font-kerning:none" >(</text>
<text transform="translate(600.81,23.89) scale(0.8764,1)" font-family='"Liberation Serif", serif' font-style="normal" font-size="31.54" fill="#1414c8" style="font-kerning:none" >)</text>
<text transform="translate(520.36,23.10) scale(0.9547,1)" font-family='"Liberation Sans", sans-serif' font-style="normal" font-size="27.72" fill="#1414c8" style="font-kerning:none" stroke="#1414c8" stroke-width="0.3" stroke-linejoin="round">hour</text>
<rect x="575.00" y="7.10" width="12.40" height="1.4" fill="#1414c8"/>
<text transform="translate(588.50,13.00) scale(1.1251,1)" font-family='"Liberation Serif", serif' font-style="normal" font-size="18.18" fill="#1414c8" style="font-kerning:none" >1</text>
<g transform="rotate(-90)"><path d="M-460.74,9.60 C-459.31,5.60 -462.37,3.60 -465.64,4.85 C-468.90,6.35 -470.94,11.60 -472.78,18.10 C-474.41,23.60 -476.45,27.35 -478.69,28.60" fill="none" stroke="#000" stroke-width="1.50" stroke-linecap="round"/><path d="M-470.53,10.10 C-471.35,12.35 -471.96,15.10 -472.78,18.10 C-474.00,22.35 -475.22,25.60 -477.06,27.60" fill="none" stroke="#000" stroke-width="3.00" stroke-linecap="round"/><path d="M-478.69,28.60 C-476.04,26.10 -472.98,25.60 -469.92,26.60 C-466.45,27.85 -463.19,29.10 -459.11,23.35" fill="none" stroke="#000" stroke-width="2.25" stroke-linecap="round"/><circle cx="-461.56" cy="8.10" r="2.25" fill="#000"/><text transform="translate(-456.61,33.20) scale(0.9265,1)" font-family='"Liberation Serif", serif' font-style="normal" font-size="24.77" fill="#000" style="font-kerning:none" >2</text><text transform="translate(-441.60,28.17) scale(0.7845,1)" font-family='"Liberation Serif", serif' font-style="normal" font-size="37.72" fill="#000" style="font-kerning:none" >(</text><path d="M-414.44,6.36 C-414.60,4.10 -416.89,3.95 -418.19,5.30 C-419.49,6.51 -420.15,10.12 -420.63,13.13 C-421.45,19.15 -422.43,23.97 -423.73,28.78 C-424.71,32.70 -426.34,34.20 -427.64,33.90 C-428.30,33.75 -428.62,33.00 -428.46,31.79" fill="none" stroke="#000" stroke-width="1.20" stroke-linecap="round"/><path d="M-419.82,8.31 C-420.15,10.12 -420.23,11.02 -420.63,13.13 C-421.45,19.15 -422.43,23.97 -423.73,28.78" fill="none" stroke="#000" stroke-width="1.87" stroke-linecap="round"/><circle cx="-415.17" cy="6.66" r="1.51" fill="#000"/><circle cx="-427.89" cy="31.64" r="1.51" fill="#000"/><path d="M-424.55,13.73 L-416.07,13.73" stroke="#000" stroke-width="1.08"/><text transform="translate(-411.23,28.17) scale(0.8465,1)" font-family='"Liberation Serif", serif' font-style="normal" font-size="37.72" fill="#000" style="font-kerning:none" >)</text><path d="M-381.45,6.59 C-381.62,4.30 -383.93,4.15 -385.25,5.52 C-386.57,6.75 -387.23,10.42 -387.73,13.48 C-388.55,19.60 -389.54,24.50 -390.86,29.39 C-391.85,33.37 -393.50,34.90 -394.82,34.59 C-395.48,34.44 -395.81,33.68 -395.65,32.45" fill="none" stroke="#000" stroke-width="1.22" stroke-linecap="round"/><path d="M-386.90,8.58 C-387.23,10.42 -387.31,11.34 -387.73,13.48 C-388.55,19.60 -389.54,24.50 -390.86,29.39" fill="none" stroke="#000" stroke-width="1.90" stroke-linecap="round"/><circle cx="-382.20" cy="6.90" r="1.53" fill="#000"/><circle cx="-395.07" cy="32.30" r="1.53" fill="#000"/><path d="M-391.69,14.09 L-383.11,14.09" stroke="#000" stroke-width="1.10"/><text transform="translate(-360.00,15.80) scale(0.9678,1)" font-family='"Liberation Serif", serif' font-style="normal" font-size="23.48" fill="#000" style="font-kerning:none" >1</text><rect x="-376.7" y="8.7" width="14.4" height="1.5" fill="#000"/></g>
<rect x="752.6" y="91.2" width="218.8" height="181" rx="6" fill="#4d4d4d"/>
<rect x="748.2" y="86.2" width="217.6" height="180.4" rx="6" fill="#fff" stroke="#000" stroke-width="2"/>
<line x1="767.6" y1="108.7" x2="809.6" y2="108.7" stroke="#000" stroke-width="2.6" stroke-dasharray="15 14.4"/>
<line x1="767.6" y1="150.7" x2="809.6" y2="150.7" stroke="#000" stroke-width="2.6"/>
<circle cx="768.3" cy="195.6" r="9.2" fill="none" stroke="#0505cc" stroke-width="2.2"/>
<rect x="759.10" y="228.30" width="18.4" height="18.4" fill="none" stroke="#f0f" stroke-width="2.1"/>
<circle cx="808.9" cy="195.6" r="9.2" fill="none" stroke="#0505cc" stroke-width="2.2"/>
<rect x="799.70" y="228.30" width="18.4" height="18.4" fill="none" stroke="#f0f" stroke-width="2.1"/>
<rect x="843.00" y="110.60" width="18.00" height="1.8" fill="#000"/>
<text transform="translate(862.34,119.60) scale(0.8864,1)" font-family='"Liberation Serif", serif' font-style="normal" font-size="30.25" fill="#000" style="font-kerning:none" >5</text>
<text transform="translate(878.60,125.38) scale(0.9261,1)" font-family='"Liberation Serif", serif' font-style="normal" font-size="42.75" fill="#000" style="font-kerning:none" >/</text>
<text transform="translate(890.84,119.62) scale(0.9759,1)" font-family='"Liberation Serif", serif' font-style="normal" font-size="29.02" fill="#000" style="font-kerning:none" >3</text>
<text transform="translate(840.49,160.69) scale(1.0975,1)" font-family='"Liberation Sans", sans-serif' font-style="normal" font-size="26.62" fill="#000" style="font-kerning:none" stroke="#000" stroke-width="0.5" stroke-linejoin="round">fit</text>
<path d="M857.42,185.68 C858.67,182.35 856.00,180.68 853.15,181.72 C850.30,182.97 848.52,187.34 846.92,192.75 C845.49,197.32 843.71,200.44 841.76,201.48" fill="none" stroke="#000" stroke-width="1.25" stroke-linecap="round"/><path d="M848.88,186.09 C848.16,187.96 847.63,190.25 846.92,192.75 C845.85,196.28 844.78,198.99 843.18,200.65" fill="none" stroke="#000" stroke-width="2.50" stroke-linecap="round"/><path d="M841.76,201.48 C844.07,199.40 846.74,198.99 849.41,199.82 C852.44,200.86 855.28,201.90 858.84,197.12" fill="none" stroke="#000" stroke-width="1.87" stroke-linecap="round"/><circle cx="856.71" cy="184.43" r="1.87" fill="#000"/>
<text transform="translate(860.41,205.00) scale(1.3764,1)" font-family='"Liberation Serif", serif' font-style="normal" font-size="16.31" fill="#000" style="font-kerning:none" >2</text>
<text transform="translate(872.87,201.98) scale(0.8263,1)" font-family='"Liberation Serif", serif' font-style="normal" font-size="31.10" fill="#000" style="font-kerning:none" >(</text>
<path d="M896.48,183.53 C896.34,181.60 894.50,181.47 893.44,182.63 C892.38,183.66 891.86,186.76 891.46,189.34 C890.80,194.50 890.01,198.63 888.95,202.76 C888.16,206.11 886.84,207.40 885.78,207.14 C885.26,207.01 884.99,206.37 885.12,205.34" fill="none" stroke="#000" stroke-width="1.03" stroke-linecap="round"/><path d="M892.12,185.21 C891.86,186.76 891.79,187.53 891.46,189.34 C890.80,194.50 890.01,198.63 888.95,202.76" fill="none" stroke="#000" stroke-width="1.60" stroke-linecap="round"/><circle cx="895.88" cy="183.79" r="1.29" fill="#000"/><circle cx="885.59" cy="205.21" r="1.29" fill="#000"/><path d="M888.29,189.86 L895.16,189.86" stroke="#000" stroke-width="0.93"/>
<text transform="translate(899.50,201.98) scale(0.9014,1)" font-family='"Liberation Serif", serif' font-style="normal" font-size="31.10" fill="#000" style="font-kerning:none" >)</text>
<path d="M924.63,183.53 C924.50,181.60 922.56,181.47 921.46,182.63 C920.36,183.66 919.80,186.76 919.39,189.34 C918.70,194.50 917.87,198.63 916.77,202.76 C915.94,206.11 914.56,207.40 913.46,207.14 C912.90,207.01 912.63,206.37 912.77,205.34" fill="none" stroke="#000" stroke-width="1.03" stroke-linecap="round"/><path d="M920.08,185.21 C919.80,186.76 919.74,187.53 919.39,189.34 C918.70,194.50 917.87,198.63 916.77,202.76" fill="none" stroke="#000" stroke-width="1.60" stroke-linecap="round"/><circle cx="924.01" cy="183.79" r="1.29" fill="#000"/><circle cx="913.25" cy="205.21" r="1.29" fill="#000"/><path d="M916.08,189.86 L923.25,189.86" stroke="#000" stroke-width="0.93"/>
<rect x="929.20" y="185.10" width="13.20" height="1.4" fill="#000"/>
<text transform="translate(943.75,190.60) scale(1.0313,1)" font-family='"Liberation Serif", serif' font-style="normal" font-size="18.18" fill="#000" style="font-kerning:none" >1</text>
<text transform="translate(842.60,247.50) scale(1.1517,1)" font-family='"Liberation Serif", serif' font-style="italic" font-size="29.78" fill="#000" style="font-kerning:none" >E</text>
<text transform="translate(864.39,247.96) scale(0.8734,1)" font-family='"Liberation Serif", serif' font-style="normal" font-size="31.65" fill="#000" style="font-kerning:none" >(</text>
<path d="M888.65,229.44 C888.51,227.50 886.61,227.37 885.52,228.53 C884.43,229.56 883.89,232.66 883.48,235.24 C882.80,240.40 881.98,244.53 880.90,248.66 C880.08,252.01 878.72,253.30 877.63,253.04 C877.09,252.91 876.82,252.27 876.95,251.24" fill="none" stroke="#000" stroke-width="1.03" stroke-linecap="round"/><path d="M884.16,231.11 C883.89,232.66 883.82,233.43 883.48,235.24 C882.80,240.40 881.98,244.53 880.90,248.66" fill="none" stroke="#000" stroke-width="1.60" stroke-linecap="round"/><circle cx="888.04" cy="229.69" r="1.29" fill="#000"/><circle cx="877.43" cy="251.11" r="1.29" fill="#000"/><path d="M880.22,235.76 L887.29,235.76" stroke="#000" stroke-width="0.93"/>
<text transform="translate(891.30,247.96) scale(0.8857,1)" font-family='"Liberation Serif", serif' font-style="normal" font-size="31.65" fill="#000" style="font-kerning:none" >)</text>
<line x1="184.80" y1="71.40" x2="184.80" y2="99.40" stroke="#4b4bdc" stroke-width="1.5" />
<line x1="356.80" y1="71.40" x2="356.80" y2="99.40" stroke="#4b4bdc" stroke-width="1.5" />
<line x1="528.80" y1="71.40" x2="528.80" y2="99.40" stroke="#4b4bdc" stroke-width="1.5" />
<line x1="700.80" y1="71.40" x2="700.80" y2="99.40" stroke="#4b4bdc" stroke-width="1.5" />
<line x1="872.80" y1="71.40" x2="872.80" y2="99.40" stroke="#4b4bdc" stroke-width="1.5" />
<rect x="244.3" y="468.8" width="277.09999999999997" height="187.2" fill="#fff"/>
<line x1="266.91" y1="656.00" x2="266.91" y2="641.50" stroke="#000" stroke-width="1.6" />
<line x1="280.13" y1="656.00" x2="280.13" y2="641.50" stroke="#000" stroke-width="1.6" />
<line x1="289.51" y1="656.00" x2="289.51" y2="641.50" stroke="#000" stroke-width="1.6" />
<line x1="296.79" y1="656.00" x2="296.79" y2="641.50" stroke="#000" stroke-width="1.6" />
<line x1="302.74" y1="656.00" x2="302.74" y2="641.50" stroke="#000" stroke-width="1.6" />
<line x1="307.77" y1="656.00" x2="307.77" y2="641.50" stroke="#000" stroke-width="1.6" />
<line x1="312.12" y1="656.00" x2="312.12" y2="641.50" stroke="#000" stroke-width="1.6" />
<line x1="315.96" y1="656.00" x2="315.96" y2="641.50" stroke="#000" stroke-width="1.6" />
<line x1="319.40" y1="656.00" x2="319.40" y2="632.00" stroke="#000" stroke-width="1.6" />
<line x1="342.01" y1="656.00" x2="342.01" y2="641.50" stroke="#000" stroke-width="1.6" />
<line x1="355.23" y1="656.00" x2="355.23" y2="641.50" stroke="#000" stroke-width="1.6" />
<line x1="364.61" y1="656.00" x2="364.61" y2="641.50" stroke="#000" stroke-width="1.6" />
<line x1="371.89" y1="656.00" x2="371.89" y2="641.50" stroke="#000" stroke-width="1.6" />
<line x1="377.84" y1="656.00" x2="377.84" y2="641.50" stroke="#000" stroke-width="1.6" />
<line x1="382.87" y1="656.00" x2="382.87" y2="641.50" stroke="#000" stroke-width="1.6" />
<line x1="387.22" y1="656.00" x2="387.22" y2="641.50" stroke="#000" stroke-width="1.6" />
<line x1="391.06" y1="656.00" x2="391.06" y2="641.50" stroke="#000" stroke-width="1.6" />
<line x1="394.50" y1="656.00" x2="394.50" y2="632.00" stroke="#000" stroke-width="1.6" />
<line x1="417.11" y1="656.00" x2="417.11" y2="641.50" stroke="#000" stroke-width="1.6" />
<line x1="430.33" y1="656.00" x2="430.33" y2="641.50" stroke="#000" stroke-width="1.6" />
<line x1="439.71" y1="656.00" x2="439.71" y2="641.50" stroke="#000" stroke-width="1.6" />
<line x1="446.99" y1="656.00" x2="446.99" y2="641.50" stroke="#000" stroke-width="1.6" />
<line x1="452.94" y1="656.00" x2="452.94" y2="641.50" stroke="#000" stroke-width="1.6" />
<line x1="457.97" y1="656.00" x2="457.97" y2="641.50" stroke="#000" stroke-width="1.6" />
<line x1="462.32" y1="656.00" x2="462.32" y2="641.50" stroke="#000" stroke-width="1.6" />
<line x1="466.16" y1="656.00" x2="466.16" y2="641.50" stroke="#000" stroke-width="1.6" />
<line x1="469.60" y1="656.00" x2="469.60" y2="632.00" stroke="#000" stroke-width="1.6" />
<line x1="492.21" y1="656.00" x2="492.21" y2="641.50" stroke="#000" stroke-width="1.6" />
<line x1="505.43" y1="656.00" x2="505.43" y2="641.50" stroke="#000" stroke-width="1.6" />
<line x1="514.81" y1="656.00" x2="514.81" y2="641.50" stroke="#000" stroke-width="1.6" />
<line x1="250.25" y1="468.80" x2="250.25" y2="483.30" stroke="#000" stroke-width="1.6" />
<line x1="256.19" y1="468.80" x2="256.19" y2="483.30" stroke="#000" stroke-width="1.6" />
<line x1="261.22" y1="468.80" x2="261.22" y2="483.30" stroke="#000" stroke-width="1.6" />
<line x1="265.58" y1="468.80" x2="265.58" y2="483.30" stroke="#000" stroke-width="1.6" />
<line x1="269.42" y1="468.80" x2="269.42" y2="483.30" stroke="#000" stroke-width="1.6" />
<line x1="295.46" y1="468.80" x2="295.46" y2="483.30" stroke="#000" stroke-width="1.6" />
<line x1="308.69" y1="468.80" x2="308.69" y2="483.30" stroke="#000" stroke-width="1.6" />
<line x1="318.07" y1="468.80" x2="318.07" y2="483.30" stroke="#000" stroke-width="1.6" />
<line x1="325.35" y1="468.80" x2="325.35" y2="483.30" stroke="#000" stroke-width="1.6" />
<line x1="331.29" y1="468.80" x2="331.29" y2="483.30" stroke="#000" stroke-width="1.6" />
<line x1="336.32" y1="468.80" x2="336.32" y2="483.30" stroke="#000" stroke-width="1.6" />
<line x1="340.68" y1="468.80" x2="340.68" y2="483.30" stroke="#000" stroke-width="1.6" />
<line x1="344.52" y1="468.80" x2="344.52" y2="483.30" stroke="#000" stroke-width="1.6" />
<line x1="370.56" y1="468.80" x2="370.56" y2="483.30" stroke="#000" stroke-width="1.6" />
<line x1="383.79" y1="468.80" x2="383.79" y2="483.30" stroke="#000" stroke-width="1.6" />
<line x1="393.17" y1="468.80" x2="393.17" y2="483.30" stroke="#000" stroke-width="1.6" />
<line x1="400.45" y1="468.80" x2="400.45" y2="483.30" stroke="#000" stroke-width="1.6" />
<line x1="406.39" y1="468.80" x2="406.39" y2="483.30" stroke="#000" stroke-width="1.6" />
<line x1="411.42" y1="468.80" x2="411.42" y2="483.30" stroke="#000" stroke-width="1.6" />
<line x1="415.78" y1="468.80" x2="415.78" y2="483.30" stroke="#000" stroke-width="1.6" />
<line x1="419.62" y1="468.80" x2="419.62" y2="483.30" stroke="#000" stroke-width="1.6" />
<line x1="445.66" y1="468.80" x2="445.66" y2="483.30" stroke="#000" stroke-width="1.6" />
<line x1="458.89" y1="468.80" x2="458.89" y2="483.30" stroke="#000" stroke-width="1.6" />
<line x1="468.27" y1="468.80" x2="468.27" y2="483.30" stroke="#000" stroke-width="1.6" />
<line x1="475.55" y1="468.80" x2="475.55" y2="483.30" stroke="#000" stroke-width="1.6" />
<line x1="481.49" y1="468.80" x2="481.49" y2="483.30" stroke="#000" stroke-width="1.6" />
<line x1="486.52" y1="468.80" x2="486.52" y2="483.30" stroke="#000" stroke-width="1.6" />
<line x1="490.88" y1="468.80" x2="490.88" y2="483.30" stroke="#000" stroke-width="1.6" />
<line x1="494.72" y1="468.80" x2="494.72" y2="483.30" stroke="#000" stroke-width="1.6" />
<line x1="244.30" y1="627.82" x2="258.80" y2="627.82" stroke="#000" stroke-width="1.6" />
<line x1="521.40" y1="627.82" x2="506.90" y2="627.82" stroke="#000" stroke-width="1.6" />
<line x1="244.30" y1="611.34" x2="258.80" y2="611.34" stroke="#000" stroke-width="1.6" />
<line x1="521.40" y1="611.34" x2="506.90" y2="611.34" stroke="#000" stroke-width="1.6" />
<line x1="244.30" y1="599.65" x2="258.80" y2="599.65" stroke="#000" stroke-width="1.6" />
<line x1="521.40" y1="599.65" x2="506.90" y2="599.65" stroke="#000" stroke-width="1.6" />
<line x1="244.30" y1="590.58" x2="258.80" y2="590.58" stroke="#000" stroke-width="1.6" />
<line x1="521.40" y1="590.58" x2="506.90" y2="590.58" stroke="#000" stroke-width="1.6" />
<line x1="244.30" y1="583.17" x2="258.80" y2="583.17" stroke="#000" stroke-width="1.6" />
<line x1="521.40" y1="583.17" x2="506.90" y2="583.17" stroke="#000" stroke-width="1.6" />
<line x1="244.30" y1="576.90" x2="258.80" y2="576.90" stroke="#000" stroke-width="1.6" />
<line x1="521.40" y1="576.90" x2="506.90" y2="576.90" stroke="#000" stroke-width="1.6" />
<line x1="244.30" y1="571.47" x2="258.80" y2="571.47" stroke="#000" stroke-width="1.6" />
<line x1="521.40" y1="571.47" x2="506.90" y2="571.47" stroke="#000" stroke-width="1.6" />
<line x1="244.30" y1="566.68" x2="258.80" y2="566.68" stroke="#000" stroke-width="1.6" />
<line x1="521.40" y1="566.68" x2="506.90" y2="566.68" stroke="#000" stroke-width="1.6" />
<line x1="244.30" y1="562.40" x2="268.30" y2="562.40" stroke="#000" stroke-width="1.6" />
<line x1="521.40" y1="562.40" x2="497.40" y2="562.40" stroke="#000" stroke-width="1.6" />
<line x1="244.30" y1="534.22" x2="258.80" y2="534.22" stroke="#000" stroke-width="1.6" />
<line x1="521.40" y1="534.22" x2="506.90" y2="534.22" stroke="#000" stroke-width="1.6" />
<line x1="244.30" y1="517.74" x2="258.80" y2="517.74" stroke="#000" stroke-width="1.6" />
<line x1="521.40" y1="517.74" x2="506.90" y2="517.74" stroke="#000" stroke-width="1.6" />
<line x1="244.30" y1="506.05" x2="258.80" y2="506.05" stroke="#000" stroke-width="1.6" />
<line x1="521.40" y1="506.05" x2="506.90" y2="506.05" stroke="#000" stroke-width="1.6" />
<line x1="244.30" y1="496.98" x2="258.80" y2="496.98" stroke="#000" stroke-width="1.6" />
<line x1="521.40" y1="496.98" x2="506.90" y2="496.98" stroke="#000" stroke-width="1.6" />
<line x1="244.30" y1="489.57" x2="258.80" y2="489.57" stroke="#000" stroke-width="1.6" />
<line x1="521.40" y1="489.57" x2="506.90" y2="489.57" stroke="#000" stroke-width="1.6" />
<line x1="244.30" y1="483.30" x2="258.80" y2="483.30" stroke="#000" stroke-width="1.6" />
<line x1="521.40" y1="483.30" x2="506.90" y2="483.30" stroke="#000" stroke-width="1.6" />
<line x1="244.30" y1="477.87" x2="258.80" y2="477.87" stroke="#000" stroke-width="1.6" />
<line x1="521.40" y1="477.87" x2="506.90" y2="477.87" stroke="#000" stroke-width="1.6" />
<line x1="244.30" y1="473.08" x2="258.80" y2="473.08" stroke="#000" stroke-width="1.6" />
<line x1="521.40" y1="473.08" x2="506.90" y2="473.08" stroke="#000" stroke-width="1.6" />
<g clip-path="url(#ci)">
<line x1="244.3" y1="562.40" x2="521.4" y2="562.40" stroke="#000" stroke-width="2.4"/>
<circle cx="268.7" cy="612.7" r="4.25" fill="none" stroke="#0505cc" stroke-width="2.2"/>
<circle cx="276.4" cy="589.2" r="4.25" fill="none" stroke="#0505cc" stroke-width="2.2"/>
<circle cx="284" cy="573.1" r="4.25" fill="none" stroke="#0505cc" stroke-width="2.2"/>
<circle cx="291.5" cy="567.3" r="4.25" fill="none" stroke="#0505cc" stroke-width="2.2"/>
<circle cx="298.7" cy="557" r="4.25" fill="none" stroke="#0505cc" stroke-width="2.2"/>
<circle cx="306.2" cy="553.7" r="4.25" fill="none" stroke="#0505cc" stroke-width="2.2"/>
<circle cx="314.1" cy="548.3" r="4.25" fill="none" stroke="#0505cc" stroke-width="2.2"/>
<circle cx="321.7" cy="554.1" r="4.25" fill="none" stroke="#0505cc" stroke-width="2.2"/>
<circle cx="329.2" cy="560.4" r="4.25" fill="none" stroke="#0505cc" stroke-width="2.2"/>
<circle cx="336.8" cy="563" r="4.25" fill="none" stroke="#0505cc" stroke-width="2.2"/>
<circle cx="344" cy="563" r="4.25" fill="none" stroke="#0505cc" stroke-width="2.2"/>
<circle cx="351.6" cy="561.6" r="4.25" fill="none" stroke="#0505cc" stroke-width="2.2"/>
<circle cx="359.1" cy="563.3" r="4.25" fill="none" stroke="#0505cc" stroke-width="2.2"/>
<circle cx="366.6" cy="551.8" r="4.25" fill="none" stroke="#0505cc" stroke-width="2.2"/>
<circle cx="374.2" cy="540.5" r="4.25" fill="none" stroke="#0505cc" stroke-width="2.2"/>
<circle cx="381.6" cy="499.8" r="4.25" fill="none" stroke="#0505cc" stroke-width="2.2"/>
<circle cx="388.9" cy="478.1" r="4.25" fill="none" stroke="#0505cc" stroke-width="2.2"/>
<circle cx="396.7" cy="491.6" r="4.25" fill="none" stroke="#0505cc" stroke-width="2.2"/>
<circle cx="404.1" cy="538.5" r="4.25" fill="none" stroke="#0505cc" stroke-width="2.2"/>
<circle cx="411.6" cy="563.8" r="4.25" fill="none" stroke="#0505cc" stroke-width="2.2"/>
<circle cx="419.3" cy="578.8" r="4.25" fill="none" stroke="#0505cc" stroke-width="2.2"/>
<circle cx="426.7" cy="590.9" r="4.25" fill="none" stroke="#0505cc" stroke-width="2.2"/>
<circle cx="433.9" cy="605.9" r="4.25" fill="none" stroke="#0505cc" stroke-width="2.2"/>
<circle cx="441.6" cy="617.5" r="4.25" fill="none" stroke="#0505cc" stroke-width="2.2"/>
<circle cx="449.4" cy="630.7" r="4.25" fill="none" stroke="#0505cc" stroke-width="2.2"/>
<circle cx="456.8" cy="638" r="4.25" fill="none" stroke="#0505cc" stroke-width="2.2"/>
<circle cx="516.5" cy="592.4" r="4.25" fill="none" stroke="#0505cc" stroke-width="2.2"/>
<circle cx="351.2" cy="653.7" r="4.25" fill="none" stroke="#c8561f" stroke-width="2.2"/>
<circle cx="359.1" cy="643.6" r="4.25" fill="none" stroke="#c8561f" stroke-width="2.2"/>
<circle cx="366.6" cy="620.3" r="4.25" fill="none" stroke="#c8561f" stroke-width="2.2"/>
<circle cx="374.4" cy="596" r="4.25" fill="none" stroke="#c8561f" stroke-width="2.2"/>
<circle cx="381.6" cy="544" r="4.25" fill="none" stroke="#c8561f" stroke-width="2.2"/>
<circle cx="388.6" cy="510.2" r="4.25" fill="none" stroke="#c8561f" stroke-width="2.2"/>
<circle cx="396.7" cy="511.1" r="4.25" fill="none" stroke="#c8561f" stroke-width="2.2"/>
<circle cx="404.1" cy="545.5" r="4.25" fill="none" stroke="#c8561f" stroke-width="2.2"/>
<circle cx="411.6" cy="558.7" r="4.25" fill="none" stroke="#c8561f" stroke-width="2.2"/>
<circle cx="418.8" cy="561" r="4.25" fill="none" stroke="#c8561f" stroke-width="2.2"/>
<circle cx="426.6" cy="559.5" r="4.25" fill="none" stroke="#c8561f" stroke-width="2.2"/>
<circle cx="434.3" cy="563.3" r="4.25" fill="none" stroke="#c8561f" stroke-width="2.2"/>
<circle cx="441.3" cy="561.8" r="4.25" fill="none" stroke="#c8561f" stroke-width="2.2"/>
<circle cx="449.1" cy="562.6" r="4.25" fill="none" stroke="#c8561f" stroke-width="2.2"/>
<circle cx="456.8" cy="558.7" r="4.25" fill="none" stroke="#c8561f" stroke-width="2.2"/>
<circle cx="463.8" cy="574.4" r="4.25" fill="none" stroke="#c8561f" stroke-width="2.2"/>
<circle cx="471.7" cy="616.1" r="4.25" fill="none" stroke="#c8561f" stroke-width="2.2"/>
<circle cx="479.3" cy="632.2" r="4.25" fill="none" stroke="#c8561f" stroke-width="2.2"/>
<circle cx="486.6" cy="639.7" r="4.25" fill="none" stroke="#c8561f" stroke-width="2.2"/>
<circle cx="494" cy="650.1" r="4.25" fill="none" stroke="#c8561f" stroke-width="2.2"/>
<circle cx="509.2" cy="637.4" r="4.25" fill="none" stroke="#c8561f" stroke-width="2.2"/>
</g>
<rect x="244.3" y="468.8" width="277.09999999999997" height="187.2" fill="none" stroke="#000" stroke-width="3"/>
<line x1="272.85" y1="468.80" x2="272.85" y2="496.80" stroke="#4b4bdc" stroke-width="1.5" />
<line x1="347.95" y1="468.80" x2="347.95" y2="496.80" stroke="#4b4bdc" stroke-width="1.5" />
<line x1="423.05" y1="468.80" x2="423.05" y2="496.80" stroke="#4b4bdc" stroke-width="1.5" />
<line x1="498.15" y1="468.80" x2="498.15" y2="496.80" stroke="#4b4bdc" stroke-width="1.5" />
<text transform="translate(219.42,686.50) scale(1.0000,1)" font-family='"Liberation Serif", serif' font-style="normal" font-size="28.80" fill="#000" style="font-kerning:none" >0.01</text>
<text transform="translate(301.72,686.50) scale(1.0000,1)" font-family='"Liberation Serif", serif' font-style="normal" font-size="28.80" fill="#000" style="font-kerning:none" >0.1</text>
<text transform="translate(386.90,686.50) scale(1.0000,1)" font-family='"Liberation Serif", serif' font-style="normal" font-size="28.80" fill="#000" style="font-kerning:none" >1</text>
<text transform="translate(454.48,686.50) scale(1.0000,1)" font-family='"Liberation Serif", serif' font-style="normal" font-size="28.80" fill="#000" style="font-kerning:none" >10</text>
<text transform="translate(240.77,452.70) scale(1.0000,1)" font-family='"Liberation Serif", serif' font-style="normal" font-size="28.80" fill="#1414c8" style="font-kerning:none" >0.001</text>
<text transform="translate(323.07,452.70) scale(1.0000,1)" font-family='"Liberation Serif", serif' font-style="normal" font-size="28.80" fill="#1414c8" style="font-kerning:none" >0.01</text>
<text transform="translate(405.37,452.70) scale(1.0000,1)" font-family='"Liberation Serif", serif' font-style="normal" font-size="28.80" fill="#1414c8" style="font-kerning:none" >0.1</text>
<text transform="translate(490.55,452.70) scale(1.0000,1)" font-family='"Liberation Serif", serif' font-style="normal" font-size="28.80" fill="#1414c8" style="font-kerning:none" >1</text>
<text transform="translate(224.20,466.20) scale(1.0000,1)" font-family='"Liberation Serif", serif' font-style="normal" font-size="20.00" fill="#000" style="font-kerning:none" >1</text>
<text transform="translate(195.86,476.60) scale(1.0000,1)" font-family='"Liberation Serif", serif' font-style="normal" font-size="28.80" fill="#000" style="font-kerning:none" >10</text>
<text transform="translate(223.76,559.80) scale(1.0000,1)" font-family='"Liberation Serif", serif' font-style="normal" font-size="20.00" fill="#000" style="font-kerning:none" >0</text>
<text transform="translate(194.42,570.20) scale(1.0000,1)" font-family='"Liberation Serif", serif' font-style="normal" font-size="28.80" fill="#000" style="font-kerning:none" >10</text>
<text transform="translate(224.20,653.40) scale(1.0000,1)" font-family='"Liberation Serif", serif' font-style="normal" font-size="20.00" fill="#000" style="font-kerning:none" >1</text>
<rect x="210.76" y="646.90" width="12.60" height="1.4" fill="#000"/>
<text transform="translate(180.76,663.80) scale(1.0000,1)" font-family='"Liberation Serif", serif' font-style="normal" font-size="28.80" fill="#000" style="font-kerning:none" >10</text>
<path d="M335.90,401.85 C335.76,399.90 333.75,399.77 332.61,400.94 C331.47,401.98 330.89,405.10 330.46,407.70 C329.75,412.90 328.89,417.06 327.75,421.22 C326.89,424.60 325.46,425.90 324.32,425.64 C323.74,425.51 323.46,424.86 323.60,423.82" fill="none" stroke="#1414c8" stroke-width="1.04" stroke-linecap="round"/><path d="M331.18,403.54 C330.89,405.10 330.82,405.88 330.46,407.70 C329.75,412.90 328.89,417.06 327.75,421.22" fill="none" stroke="#1414c8" stroke-width="1.61" stroke-linecap="round"/><circle cx="335.26" cy="402.11" r="1.30" fill="#1414c8"/><circle cx="324.10" cy="423.69" r="1.30" fill="#1414c8"/><path d="M327.03,408.22 L334.47,408.22" stroke="#1414c8" stroke-width="0.94"/>
<text transform="translate(344.19,421.19) scale(0.8764,1)" font-family='"Liberation Serif", serif' font-style="normal" font-size="31.54" fill="#1414c8" style="font-kerning:none" >(</text>
<text transform="translate(434.21,421.19) scale(0.8764,1)" font-family='"Liberation Serif", serif' font-style="normal" font-size="31.54" fill="#1414c8" style="font-kerning:none" >)</text>
<text transform="translate(353.76,420.40) scale(0.9547,1)" font-family='"Liberation Sans", sans-serif' font-style="normal" font-size="27.72" fill="#1414c8" style="font-kerning:none" stroke="#1414c8" stroke-width="0.3" stroke-linejoin="round">hour</text>
<rect x="408.40" y="404.40" width="12.40" height="1.4" fill="#1414c8"/>
<text transform="translate(421.90,410.30) scale(1.1251,1)" font-family='"Liberation Serif", serif' font-style="normal" font-size="18.18" fill="#1414c8" style="font-kerning:none" >1</text>
<path d="M341.99,708.98 C341.85,707.00 339.83,706.87 338.68,708.06 C337.53,709.11 336.95,712.28 336.52,714.92 C335.80,720.20 334.94,724.42 333.78,728.65 C332.92,732.08 331.48,733.40 330.33,733.14 C329.75,733.00 329.46,732.34 329.61,731.29" fill="none" stroke="#000" stroke-width="1.06" stroke-linecap="round"/><path d="M337.24,710.70 C336.95,712.28 336.88,713.07 336.52,714.92 C335.80,720.20 334.94,724.42 333.78,728.65" fill="none" stroke="#000" stroke-width="1.64" stroke-linecap="round"/><circle cx="341.34" cy="709.24" r="1.32" fill="#000"/><circle cx="330.11" cy="731.16" r="1.32" fill="#000"/><path d="M333.06,715.45 L340.55,715.45" stroke="#000" stroke-width="0.95"/>
<text transform="translate(350.87,727.09) scale(0.8147,1)" font-family='"Liberation Serif", serif' font-style="normal" font-size="31.54" fill="#000" style="font-kerning:none" >(</text>
<text transform="translate(428.77,727.09) scale(0.8147,1)" font-family='"Liberation Serif", serif' font-style="normal" font-size="31.54" fill="#000" style="font-kerning:none" >)</text>
<text transform="translate(360.00,726.20) scale(0.8956,1)" font-family='"Liberation Sans", sans-serif' font-style="normal" font-size="26.48" fill="#000" style="font-kerning:none" stroke="#000" stroke-width="0.3" stroke-linejoin="round">day</text>
<rect x="403.00" y="711.70" width="11.40" height="1.4" fill="#000"/>
<text transform="translate(417.33,716.60) scale(1.0363,1)" font-family='"Liberation Serif", serif' font-style="normal" font-size="17.27" fill="#000" style="font-kerning:none" >1</text>
<g transform="rotate(-90)"><text transform="translate(-607.52,156.65) scale(0.9384,1)" font-family='"Liberation Sans", sans-serif' font-style="normal" font-size="30.58" fill="#000" style="font-kerning:none" stroke="#000" stroke-width="0.5" stroke-linejoin="round">comp.</text></g>
</svg>
</body></html>
